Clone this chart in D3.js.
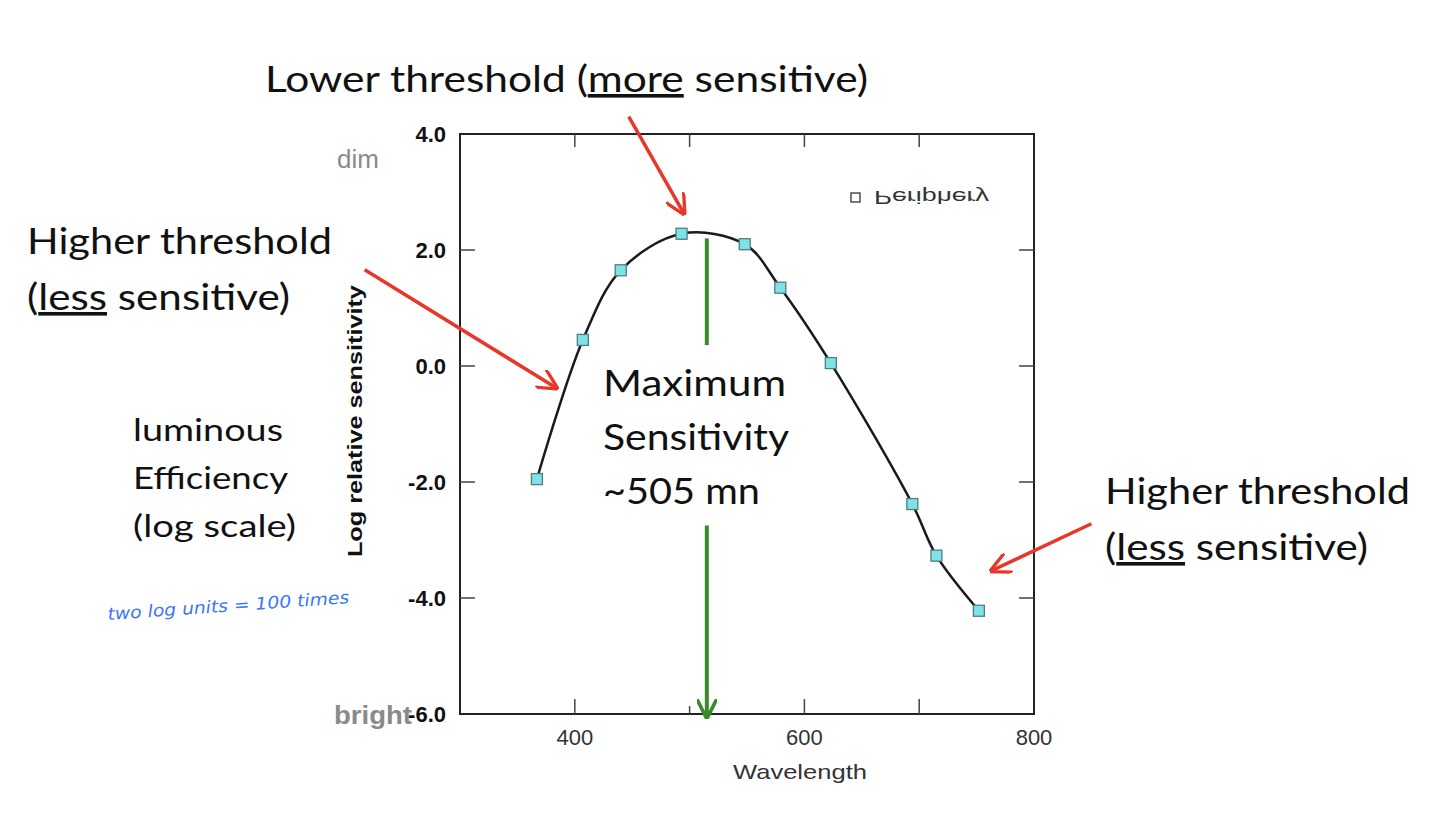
<!DOCTYPE html>
<html>
<head>
<meta charset="utf-8">
<script src="https://cdn.jsdelivr.net/npm/d3@7"></script>
<style>
  body { margin: 0; background: #fff; }
  svg { display: block; }
</style>
</head>
<body>
<script>
// wavelength (nm) and log relative sensitivity
const wavelengths = [367, 407, 440, 493, 548, 579, 623, 694, 715, 752];
const sensitivity = [-1.95, 0.45, 1.65, 2.28, 2.1, 1.35, 0.05, -2.38, -3.27, -4.22];
const xTickLabels = [400, 600, 800];
const xTickMarks = [400, 500, 600, 700];
const yTickLabels = [4, 2, 0, -2, -4, -6];
const yTickMarks = [2, 0, -2, -4];
const peakWavelength = 515;

const width = 1440;
const height = 835;

const x = d3.scaleLinear().domain([300, 800]).range([460, 1034]);
const y = d3.scaleLinear().domain([-6, 4]).range([714, 134]);

const svg = d3.select("body").append("svg")
  .attr("width", width)
  .attr("height", height);

const bigFont = "Lato, 'Open Sans', sans-serif";
const axisFont = "'Liberation Sans', Arial, sans-serif";

svg.append("defs").append("marker")
  .attr("id", "redHead")
  .attr("viewBox", "0 0 10 10")
  .attr("refX", 9).attr("refY", 5)
  .attr("markerWidth", 6).attr("markerHeight", 6)
  .attr("markerUnits", "strokeWidth")
  .attr("orient", "auto")
  .append("path")
  .attr("d", "M 0 0 L 10 5 L 0 10")
  .attr("fill", "none")
  .attr("stroke", "#e8372a")
  .attr("stroke-width", 1.6);

svg.select("defs").append("marker")
  .attr("id", "greenHead")
  .attr("viewBox", "0 0 10 10")
  .attr("refX", 9).attr("refY", 5)
  .attr("markerWidth", 5).attr("markerHeight", 5)
  .attr("markerUnits", "strokeWidth")
  .attr("orient", "auto")
  .append("path")
  .attr("d", "M 0 0 L 10 5 L 0 10")
  .attr("fill", "none")
  .attr("stroke", "#3a8a2c")
  .attr("stroke-width", 1.8);

// frame
const [x0, x1] = x.range();
const [yb, yt] = y.range();
svg.append("rect")
  .attr("x", x0).attr("y", yt)
  .attr("width", x1 - x0).attr("height", yb - yt)
  .attr("fill", "none")
  .attr("stroke", "#222")
  .attr("stroke-width", 2);

// inward ticks
const ticks = svg.append("g").attr("stroke", "#444").attr("stroke-width", 1.5);
ticks.selectAll(".tt").data(xTickMarks).join("line")
  .attr("x1", (d) => x(d)).attr("x2", (d) => x(d))
  .attr("y1", yt).attr("y2", yt + 13);
ticks.selectAll(".tb").data(xTickMarks).join("line")
  .attr("x1", (d) => x(d)).attr("x2", (d) => x(d))
  .attr("y1", yb).attr("y2", (d) => yb - (d === 500 ? 8 : 15));
ticks.selectAll(".tl").data(yTickMarks).join("line")
  .attr("x1", x0).attr("x2", x0 + 15)
  .attr("y1", (d) => y(d)).attr("y2", (d) => y(d));
ticks.selectAll(".tr").data(yTickMarks).join("line")
  .attr("x1", x1).attr("x2", x1 - 15)
  .attr("y1", (d) => y(d)).attr("y2", (d) => y(d));

// tick labels
svg.append("g").selectAll("text").data(yTickLabels).join("text")
  .attr("x", x0 - 14)
  .attr("y", (d) => y(d) + 8)
  .attr("text-anchor", "end")
  .attr("font-family", axisFont)
  .attr("font-weight", "bold")
  .attr("font-size", 22)
  .attr("fill", "#111")
  .text((d) => d.toFixed(1));

svg.append("g").selectAll("text").data(xTickLabels).join("text")
  .attr("x", (d) => x(d))
  .attr("y", yb + 31)
  .attr("text-anchor", "middle")
  .attr("font-family", axisFont)
  .attr("font-size", 22)
  .attr("fill", "#333")
  .text((d) => d);

svg.append("text")
  .attr("x", (x0 + x1) / 2 + 53)
  .attr("y", yb + 65)
  .attr("text-anchor", "middle")
  .attr("font-family", axisFont)
  .attr("font-size", 21)
  .attr("fill", "#333")
  .attr("textLength", 134)
  .attr("lengthAdjust", "spacingAndGlyphs")
  .text("Wavelength");

svg.append("text")
  .attr("transform", `translate(362 ${y(-0.95)}) rotate(-90)`)
  .attr("text-anchor", "middle")
  .attr("font-family", axisFont)
  .attr("font-weight", "bold")
  .attr("font-size", 21)
  .attr("fill", "#111")
  .attr("textLength", 272)
  .attr("lengthAdjust", "spacingAndGlyphs")
  .text("Log relative sensitivity");

svg.append("text")
  .attr("x", 337).attr("y", y(4) + 34)
  .attr("font-family", axisFont)
  .attr("font-size", 26)
  .attr("fill", "#8a8a8a")
  .text("dim");

svg.append("text")
  .attr("x", 334).attr("y", y(-6) + 10)
  .attr("font-family", axisFont)
  .attr("font-weight", "bold")
  .attr("font-size", 25)
  .attr("fill", "#8a8a8a")
  .attr("textLength", 78)
  .attr("lengthAdjust", "spacingAndGlyphs")
  .text("bright");

// legend, printed upside down in the source figure
const legend = svg.append("g")
  .attr("transform", `translate(0 ${2 * 197}) scale(1 -1)`);
legend.append("rect")
  .attr("x", 851).attr("y", 192)
  .attr("width", 9).attr("height", 9)
  .attr("fill", "none")
  .attr("stroke", "#333")
  .attr("stroke-width", 1.3);
legend.append("text")
  .attr("x", 874).attr("y", 203)
  .attr("font-family", axisFont)
  .attr("font-size", 19)
  .attr("fill", "#333")
  .attr("textLength", 115)
  .attr("lengthAdjust", "spacingAndGlyphs")
  .text("Periphery");

// curve and markers
const points = wavelengths.map((w, i) => ({ w, s: sensitivity[i] }));
const line = d3.line()
  .x((d) => x(d.w))
  .y((d) => y(d.s))
  .curve(d3.curveCatmullRom.alpha(0.5));

svg.append("path")
  .datum(points)
  .attr("d", line)
  .attr("fill", "none")
  .attr("stroke", "#1a1a1a")
  .attr("stroke-width", 2.5);

svg.append("g").selectAll("rect").data(points).join("rect")
  .attr("x", (d) => x(d.w) - 5.5)
  .attr("y", (d) => y(d.s) - 5.5)
  .attr("width", 11).attr("height", 11)
  .attr("fill", "#7fe3e6")
  .attr("stroke", "#4d7f82")
  .attr("stroke-width", 1.3);

// green maximum marker
svg.append("line")
  .attr("x1", x(peakWavelength)).attr("x2", x(peakWavelength))
  .attr("y1", y(2.2)).attr("y2", y(0.36))
  .attr("stroke", "#3a8a2c").attr("stroke-width", 4);
svg.append("line")
  .attr("x1", x(peakWavelength)).attr("x2", x(peakWavelength))
  .attr("y1", y(-2.75)).attr("y2", y(-6.05))
  .attr("stroke", "#3a8a2c").attr("stroke-width", 4)
  .attr("marker-end", "url(#greenHead)");

// red arrows
const arrows = [
  [[447, 4.3], [495, 2.63]],
  [[217, 1.66], [384, -0.38]],
  [[850, -2.72], [763, -3.53]],
];
svg.append("g").selectAll("line").data(arrows).join("line")
  .attr("x1", (d) => x(d[0][0])).attr("y1", (d) => y(d[0][1]))
  .attr("x2", (d) => x(d[1][0])).attr("y2", (d) => y(d[1][1]))
  .attr("stroke", "#e8372a")
  .attr("stroke-width", 3.5)
  .attr("marker-end", "url(#redHead)");

// text annotations
const note = (tx, ty, parts, len, size) => {
  const t = svg.append("text")
    .attr("x", tx).attr("y", ty)
    .attr("font-family", bigFont)
    .attr("font-size", size)
    .attr("fill", "#111")
    .attr("textLength", len)
    .attr("lengthAdjust", "spacingAndGlyphs");
  parts.forEach((p) => {
    t.append("tspan")
      .attr("text-decoration", p.u ? "underline" : null)
      .text(p.t);
  });
  return t;
};

note(265, 92, [{ t: "Lower threshold (" }, { t: "more", u: true }, { t: " sensitive)" }], 603, 36);
note(27, 254, [{ t: "Higher threshold" }], 305, 36);
note(27, 310, [{ t: "(" }, { t: "less", u: true }, { t: " sensitive)" }], 263, 36);
note(1105, 504, [{ t: "Higher threshold" }], 305, 36);
note(1105, 560, [{ t: "(" }, { t: "less", u: true }, { t: " sensitive)" }], 263, 36);
note(133, 441, [{ t: "luminous" }], 150, 30);
note(133, 489, [{ t: "Efficiency" }], 155, 30);
note(133, 537, [{ t: "(log scale)" }], 163, 30);
note(603, 396, [{ t: "Maximum" }], 183, 37);
note(603, 450, [{ t: "Sensitivity" }], 186, 37);
note(603, 504, [{ t: "~505 mn" }], 157, 37);

// handwritten note
svg.append("text")
  .attr("transform", "translate(108 620) rotate(-4)")
  .attr("font-family", "'DejaVu Sans', sans-serif")
  .attr("font-style", "italic")
  .attr("font-size", 17)
  .attr("fill", "#3a78f2")
  .attr("textLength", 242)
  .attr("lengthAdjust", "spacingAndGlyphs")
  .text("two log units = 100 times");
</script>
</body>
</html>
